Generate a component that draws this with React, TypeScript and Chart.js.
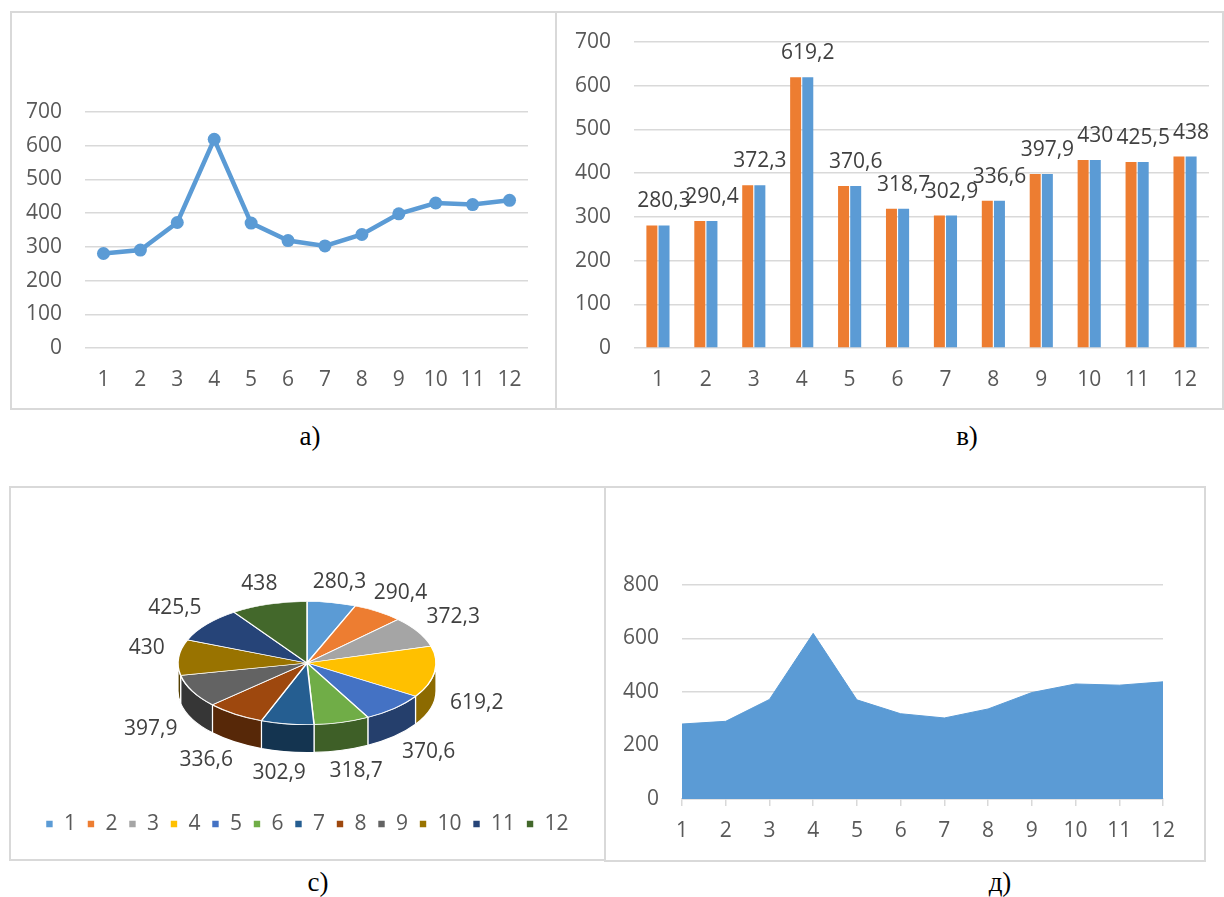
import React, { useEffect, useRef } from "react";
import { Chart, registerables } from "chart.js";

Chart.register(...registerables);

// ---------- data ----------
const categories = ["1", "2", "3", "4", "5", "6", "7", "8", "9", "10", "11", "12"];
const values = [280.3, 290.4, 372.3, 619.2, 370.6, 318.7, 302.9, 336.6, 397.9, 430, 425.5, 438];
const valueLabels = ["280,3", "290,4", "372,3", "619,2", "370,6", "318,7", "302,9", "336,6", "397,9", "430", "425,5", "438"];
const lineAxisMax = 700;
const lineAxisStep = 100;
const areaAxisMax = 800;
const areaAxisStep = 200;
const pieColors = ["#5B9BD5", "#ED7D31", "#A5A5A5", "#FFC000", "#4472C4", "#70AD47", "#255E91", "#9E480E", "#636363", "#997300", "#264478", "#43682B"];
const captions = ["а)", "в)", "с)", "д)"];

// ---------- style ----------
const FONT = "'Open Sans', sans-serif";
const AXIS_TXT = "#595959";
const LABEL_TXT = "#404040";
const GRID = "#D9D9D9";
const BLUE = "#5B9BD5";
const ORANGE = "#ED7D31";
const FS = 21;

Chart.defaults.font.family = FONT;
Chart.defaults.color = AXIS_TXT;

function darken(hex: string, f: number) {
  const n = parseInt(hex.slice(1), 16);
  const r = Math.round(((n >> 16) & 255) * f);
  const g = Math.round(((n >> 8) & 255) * f);
  const b = Math.round((n & 255) * f);
  return `rgb(${r},${g},${b})`;
}

function fixY(width: number) {
  return (s: any) => {
    s.width = width;
    s.paddingTop = 0;
    s.paddingBottom = 0;
  };
}

// ---------- chart a: line ----------
function lineConfig(): any {
  return {
    type: "line",
    data: {
      labels: categories,
      datasets: [
        {
          data: values,
          borderColor: BLUE,
          backgroundColor: BLUE,
          borderWidth: 4.5,
          pointRadius: 6.5,
          pointBorderWidth: 0,
          pointBackgroundColor: BLUE,
          tension: 0,
          fill: false,
        },
      ],
    },
    options: {
      animation: false,
      responsive: false,
      events: [],
      layout: { padding: { top: 99, right: 27, bottom: 10, left: 0 } },
      plugins: { legend: { display: false }, tooltip: { enabled: false } },
      scales: {
        x: {
          offset: true,
          grid: { display: false, drawTicks: false },
          border: { display: false },
          ticks: { color: AXIS_TXT, font: { size: FS }, padding: 19, maxRotation: 0 },
          afterFit: (s: any) => { s.height = 50; },
        },
        y: {
          min: 0,
          max: lineAxisMax,
          ticks: { stepSize: lineAxisStep, color: AXIS_TXT, font: { size: FS }, padding: 23 },
          grid: { color: GRID, lineWidth: 1.5, drawTicks: false },
          border: { display: false },
          afterFit: fixY(74),
        },
      },
    },
  };
}

// ---------- chart в: bars ----------
const barLabelPlugin = {
  id: "barLabels",
  afterDatasetsDraw(chart: any) {
    const meta = chart.getDatasetMeta(1);
    const ctx = chart.ctx;
    ctx.save();
    ctx.font = `${FS}px ${FONT}`;
    ctx.fillStyle = LABEL_TXT;
    ctx.textAlign = "center";
    ctx.textBaseline = "middle";
    meta.data.forEach((bar: any, i: number) => {
      ctx.fillText(valueLabels[i], bar.x, bar.y - 24);
    });
    ctx.restore();
  },
};

function barConfig(): any {
  const common = { barPercentage: 0.905, categoryPercentage: 0.507 };
  return {
    type: "bar",
    data: {
      labels: categories,
      datasets: [
        { data: values, backgroundColor: ORANGE, ...common },
        { data: values, backgroundColor: BLUE, ...common },
      ],
    },
    options: {
      animation: false,
      responsive: false,
      events: [],
      layout: { padding: { top: 29, right: 13, bottom: 10, left: 0 } },
      plugins: { legend: { display: false }, tooltip: { enabled: false } },
      scales: {
        x: {
          grid: { display: false, drawTicks: false },
          border: { display: false },
          ticks: { color: AXIS_TXT, font: { size: FS }, padding: 19, maxRotation: 0 },
          afterFit: (s: any) => { s.height = 50; },
        },
        y: {
          min: 0,
          max: lineAxisMax,
          ticks: { stepSize: lineAxisStep, color: AXIS_TXT, font: { size: FS }, padding: 23 },
          grid: { color: GRID, lineWidth: 1.5, drawTicks: false },
          border: { display: false },
          afterFit: fixY(76),
        },
      },
    },
    plugins: [barLabelPlugin],
  };
}

// ---------- chart с: 3D pie ----------
const PIE_RX = 129;
const PIE_RY = 61.5;
const PIE_DEPTH = 28;

const pie3dPlugin = {
  id: "pie3d",
  beforeDatasetsDraw(chart: any) {
    const arcs = chart.getDatasetMeta(0).data;
    if (!arcs.length) return;
    const { x, y, outerRadius } = arcs[0];
    const ctx = chart.ctx;
    // visible side wall (front half)
    arcs.forEach((arc: any, i: number) => {
      const lo = Math.max(arc.startAngle, 0);
      const hi = Math.min(arc.endAngle, Math.PI);
      if (hi <= lo) return;
      ctx.beginPath();
      ctx.ellipse(x, y, PIE_RX, PIE_RY, 0, lo, hi);
      ctx.lineTo(x + PIE_RX * Math.cos(hi), y + PIE_DEPTH + PIE_RY * Math.sin(hi));
      ctx.ellipse(x, y + PIE_DEPTH, PIE_RX, PIE_RY, 0, hi, lo, true);
      ctx.closePath();
      ctx.fillStyle = darken(pieColors[i], 0.55);
      ctx.fill();
      ctx.strokeStyle = "#ffffff";
      ctx.lineWidth = 1.2;
      ctx.stroke();
    });
    ctx.save();
    ctx.translate(x, y);
    ctx.scale(PIE_RX / outerRadius, PIE_RY / outerRadius);
    ctx.translate(-x, -y);
  },
  afterDatasetsDraw(chart: any) {
    const arcs = chart.getDatasetMeta(0).data;
    if (!arcs.length) return;
    const ctx = chart.ctx;
    ctx.restore();
    const { x, y } = arcs[0];
    ctx.save();
    ctx.font = `${FS}px ${FONT}`;
    ctx.fillStyle = LABEL_TXT;
    ctx.textAlign = "center";
    ctx.textBaseline = "middle";
    arcs.forEach((arc: any, i: number) => {
      const mid = (arc.startAngle + arc.endAngle) / 2;
      const s = Math.cos(mid);
      const c = -Math.sin(mid);
      const txt = valueLabels[i];
      const w = ctx.measureText(txt).width;
      const g = 12 + 13 * Math.max(0, -c);
      const px = x + (PIE_RX + g) * s + (w / 2 + 2) * s;
      const py = c >= 0 ? y - (PIE_RY + 13) * c - 8 : y + (PIE_RY + 21.5) * -c + PIE_DEPTH;
      ctx.fillText(txt, px, py);
    });
    ctx.restore();
  },
};

function pieConfig(): any {
  return {
    type: "pie",
    data: {
      labels: categories,
      datasets: [
        {
          data: values,
          backgroundColor: pieColors,
          borderColor: "#ffffff",
          borderWidth: 1.6,
        },
      ],
    },
    options: {
      animation: false,
      responsive: false,
      events: [],
      layout: { padding: { top: 35.5, bottom: 12.5, left: 0, right: 0 } },
      plugins: {
        tooltip: { enabled: false },
        legend: {
          position: "bottom",
          labels: {
            boxWidth: 8,
            boxHeight: 8,
            padding: 11,
            color: AXIS_TXT,
            font: { size: FS },
          },
        },
      },
    },
    plugins: [pie3dPlugin],
  };
}

// ---------- chart д: area ----------
function areaConfig(): any {
  return {
    type: "line",
    data: {
      labels: categories,
      datasets: [
        {
          data: values,
          borderColor: BLUE,
          backgroundColor: BLUE,
          borderWidth: 1,
          pointRadius: 0,
          tension: 0,
          fill: "origin",
        },
      ],
    },
    options: {
      animation: false,
      responsive: false,
      events: [],
      layout: { padding: { top: 97, right: 40, bottom: 11, left: 0 } },
      plugins: { legend: { display: false }, tooltip: { enabled: false } },
      scales: {
        x: {
          offset: false,
          grid: { display: true, drawOnChartArea: false, drawTicks: true, tickLength: 7, color: GRID, lineWidth: 1.5 },
          border: { display: true, color: GRID, width: 1.5 },
          ticks: { color: AXIS_TXT, font: { size: FS }, padding: 12, maxRotation: 0 },
          afterFit: (s: any) => { s.height = 50; },
        },
        y: {
          min: 0,
          max: areaAxisMax,
          ticks: { stepSize: areaAxisStep, color: AXIS_TXT, font: { size: FS }, padding: 23 },
          grid: { color: GRID, lineWidth: 1.5, drawTicks: false },
          border: { display: false },
          afterFit: fixY(75),
        },
      },
    },
  };
}

// ---------- components ----------
function ChartCanvas(props: { make: () => any; left: number; top: number; width: number; height: number }) {
  const ref = useRef<HTMLCanvasElement>(null);
  useEffect(() => {
    const chart = new Chart(ref.current as HTMLCanvasElement, props.make());
    return () => chart.destroy();
  }, []);
  return (
    <canvas
      ref={ref}
      width={props.width}
      height={props.height}
      style={{ position: "absolute", left: props.left, top: props.top, width: props.width, height: props.height }}
    />
  );
}

function Panel(props: { left: number; top: number; width: number; height: number }) {
  return (
    <div
      style={{
        position: "absolute",
        left: props.left,
        top: props.top,
        width: props.width,
        height: props.height,
        border: `2px solid ${GRID}`,
        boxSizing: "border-box",
      }}
    />
  );
}

function Caption(props: { text: string; cx: number; cy: number }) {
  return (
    <div
      style={{
        position: "absolute",
        left: props.cx - 40,
        top: props.cy - 16,
        width: 80,
        height: 32,
        lineHeight: "32px",
        textAlign: "center",
        fontFamily: "'Liberation Serif', 'Times New Roman', serif",
        fontSize: 27,
        color: "#000",
      }}
    >
      {props.text}
    </div>
  );
}

export default function App() {
  return (
    <div style={{ position: "absolute", left: 0, top: 0, width: 1224, height: 897, background: "#fff", overflow: "hidden" }}>
      <Panel left={10} top={11} width={547} height={399} />
      <Panel left={555} top={11} width={669} height={399} />
      <Panel left={9} top={486} width={597} height={375} />
      <Panel left={604} top={486} width={602} height={376} />

      <ChartCanvas make={lineConfig} left={11} top={13} width={544} height={395} />
      <ChartCanvas make={barConfig} left={558} top={13} width={664} height={395} />
      <ChartCanvas make={pieConfig} left={11} top={488} width={592} height={369} />
      <ChartCanvas make={areaConfig} left={607} top={488} width={596} height={372} />

      <Caption text={captions[0]} cx={310} cy={436} />
      <Caption text={captions[1]} cx={967} cy={436} />
      <Caption text={captions[2]} cx={318} cy={882} />
      <Caption text={captions[3]} cx={1000} cy={882} />
    </div>
  );
}
